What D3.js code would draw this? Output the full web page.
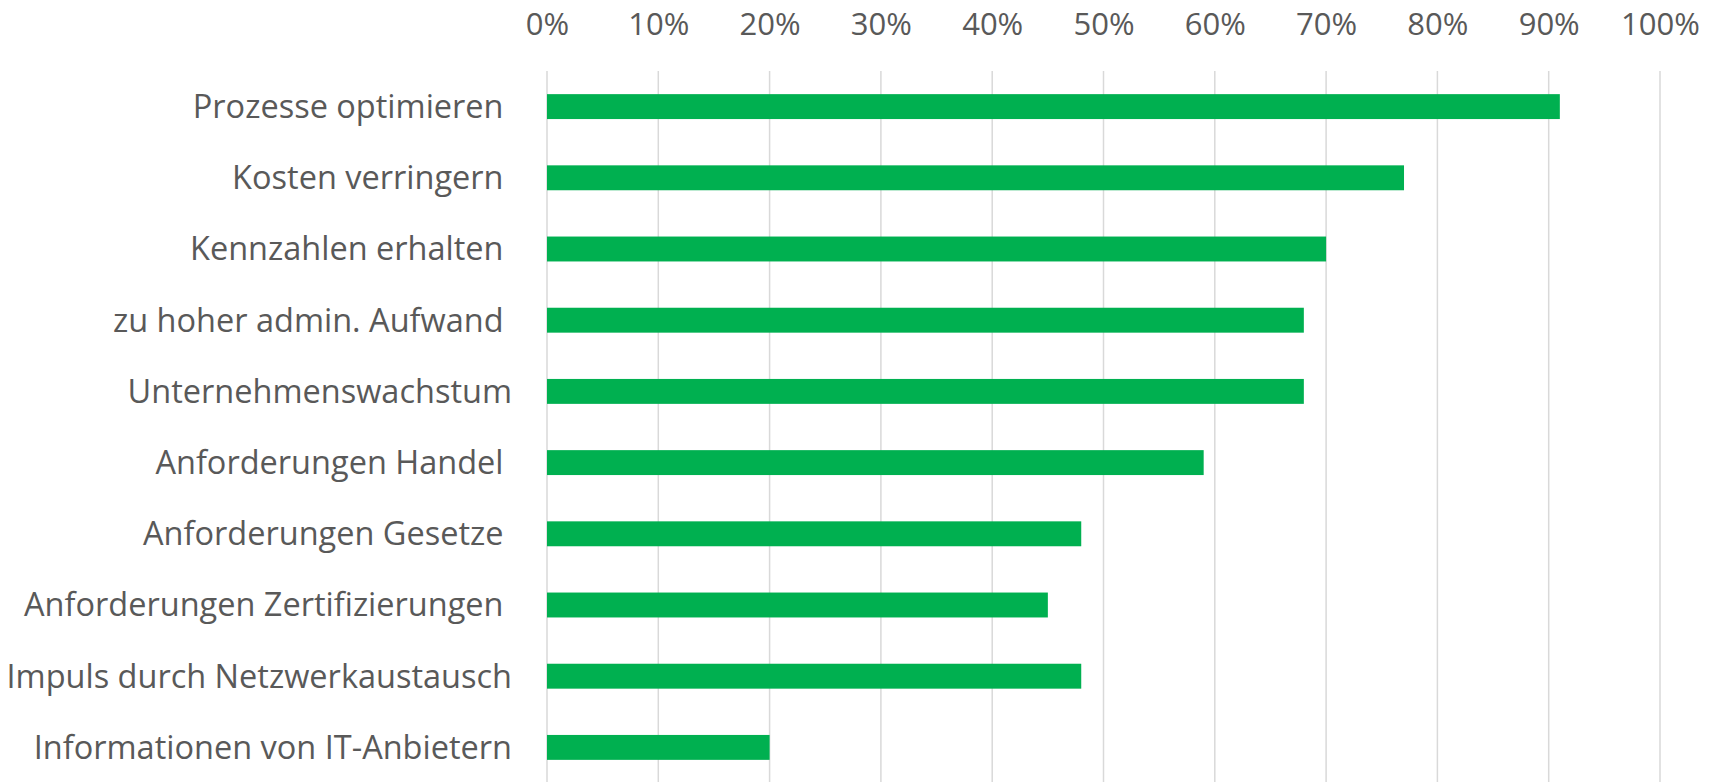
<!DOCTYPE html>
<html><head><meta charset="utf-8">
<script src="https://cdn.jsdelivr.net/npm/d3@7"></script>
<style>body{margin:0;background:#fff}svg{display:block}text{font-family:"Open Sans",sans-serif;fill:#595959}</style>
</head><body><svg id="c" width="1719" height="782"></svg>
<script>
const categories = ["Prozesse optimieren ","Kosten verringern ","Kennzahlen erhalten ","zu hoher admin. Aufwand ","Unternehmenswachstum","Anforderungen Handel ","Anforderungen Gesetze ","Anforderungen Zertifizierungen ","Impuls durch Netzwerkaustausch","Informationen von IT-Anbietern"];
const values = [0.91,0.77,0.70,0.68,0.68,0.59,0.48,0.45,0.48,0.20];
const tickValues = [0,0.1,0.2,0.3,0.4,0.5,0.6,0.7,0.8,0.9,1.0];

const svg = d3.select("#c");
const x = d3.scaleLinear().domain([0,1]).range([547,1660]);
const y = d3.scaleBand().domain(categories).range([71,783]).paddingInner(0.65).paddingOuter(0.325);

// gridlines
svg.append("g").selectAll("line").data(tickValues).join("line")
  .attr("x1",d=>x(d)).attr("x2",d=>x(d)).attr("y1",71).attr("y2",782)
  .attr("stroke","#d9d9d9").attr("stroke-width",1.5);

// top axis labels
const ax = d3.axisTop(x).tickValues(tickValues).tickFormat(d3.format(".0%")).tickSize(0).tickPadding(0);
const g = svg.append("g").attr("transform","translate(0,24)").call(ax);
g.select(".domain").remove();
g.selectAll("text").style("font-size","31px").attr("dy","0.36em").style("fill","#595959").style("font-family","\"Open Sans\",sans-serif");

// bars
svg.append("g").selectAll("rect").data(values).join("rect")
  .attr("x",x(0)).attr("y",(d,i)=>y(categories[i]))
  .attr("width",d=>x(d)-x(0)).attr("height",y.bandwidth())
  .attr("fill","#00b050");

// category labels
const ay = d3.axisLeft(y).tickSize(0).tickPadding(0);
const gy = svg.append("g").attr("transform","translate(512,0)").call(ay);
gy.select(".domain").remove();
gy.selectAll("text").style("font-size","32.5px").attr("dy","0.35em").style("white-space","pre").style("fill","#595959").style("font-family","\"Open Sans\",sans-serif");
</script></body></html>
